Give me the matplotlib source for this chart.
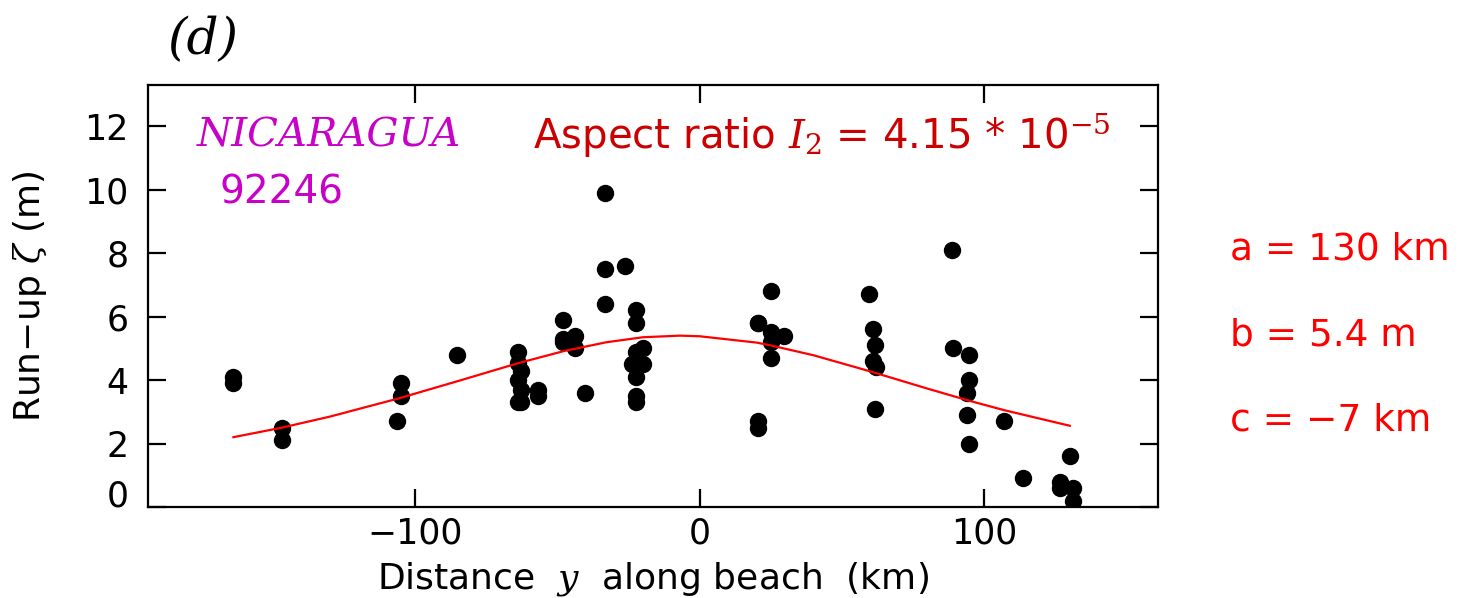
#%% Import Library
import numpy as np
import matplotlib.pyplot as plt
import matplotlib.transforms as mtransforms

#%% Modify the chart's appearance
plt.rcParams['font.family'] = ['DejaVu Sans']
plt.rcParams['mathtext.fontset'] = 'dejavuserif'
plt.rcParams['axes.linewidth'] = 1.6

#%% Data
# run-up observations: distance along beach (km), run-up (m)
dist_km = [-164, -164, -147, -147, -106.5, -105, -105, -85.5,
           -64, -64, -63, -64, -63, -64, -63, -57, -57,
           -48, -48, -48, -44, -44, -40.5,
           -33.5, -33.5, -26.5, -33.5,
           -22.5, -22.5, -20, -22.5, -24, -20, -22.5, -22.5, -22.5,
           20.5, 25, 20.5, 29.5, 25, 25, 25, 20.5, 20.5,
           59.5, 61, 61.5, 61, 62, 61.5,
           88.5, 89, 94.5, 94.5, 94, 94, 94.5, 107,
           113.5, 126.5, 126.5, 130, 131, 131]
runup_m = [4.1, 3.9, 2.5, 2.1, 2.7, 3.9, 3.5, 4.8,
           4.9, 4.55, 4.3, 4.0, 3.7, 3.3, 3.3, 3.7, 3.5,
           5.9, 5.3, 5.2, 5.4, 5.0, 3.6,
           9.9, 7.5, 7.6, 6.4,
           6.2, 5.8, 5.0, 4.9, 4.5, 4.5, 4.1, 3.5, 3.3,
           5.8, 6.8, 5.8, 5.4, 5.5, 5.2, 4.7, 2.7, 2.5,
           6.7, 5.6, 5.1, 4.6, 4.4, 3.1,
           8.1, 5.0, 4.8, 4.0, 3.6, 2.9, 2.0, 2.7,
           0.9, 0.8, 0.6, 1.6, 0.6, 0.2]

# fitted curve, values
curve_x = [-164, -147, -130, -106, -85, -64, -48, -33, -20, -7, 0,
           20, 25, 40, 60, 80, 95, 107, 130]
curve_y = [2.20, 2.50, 2.85, 3.42, 3.97, 4.53, 4.91, 5.19, 5.35, 5.40, 5.38,
           5.18, 5.09, 4.78, 4.27, 3.73, 3.34, 3.05, 2.56]

x_ticks = [-100, 0, 100]
y_ticks = [0, 2, 4, 6, 8, 10, 12]

region = 'NICARAGUA'
event_id = '92246'
fit_params = ['a = 130 km', 'b = 5.4 m', 'c = \u22127 km']

#%% Plot
fig = plt.figure(figsize=(14.63, 5.98), dpi=100)
ax = fig.add_axes([0.1012, 0.1522, 0.6903, 0.7057])

ax.plot(dist_km, runup_m, 'o', color='black', ms=11.5, mec='black')
ax.plot(curve_x, curve_y, color='red', lw=1.6)

ax.set_xlim(-194, 161)
ax.set_ylim(0, 13.3)
ax.set_xticks(x_ticks)
ax.set_yticks(y_ticks)
ax.set_xticklabels(['\u2212100', '0', '100'])
ax.tick_params(direction='in', length=13, width=1.6, labelsize=25,
               top=True, right=True)
ax.tick_params(axis='x', pad=7)
ax.tick_params(axis='y', pad=14)

# lift the "0" label a bit, as in the original
lbl0 = ax.get_yticklabels()[0]
lbl0.set_transform(lbl0.get_transform() +
                   mtransforms.ScaledTranslation(0, 14 / 100, fig.dpi_scale_trans))

ax.set_xlabel(r'Distance  $\mathit{y}$  along beach  (km)', fontsize=26)
ax.set_ylabel(r'Run$-$up $\zeta$ (m)', fontsize=26)
ax.xaxis.label.set_va('baseline')
ax.yaxis.label.set_va('center')
ax.xaxis.set_label_coords(0.5, -0.192)
ax.yaxis.set_label_coords(-0.117, 0.5)

#%% Annotations
fig.text(0.139, 0.932, '(d)', fontsize=36, family='DejaVu Serif', style='italic',
         ha='center', va='center')
ax.text(0.048, 0.88, region, transform=ax.transAxes, fontsize=29,
        family='DejaVu Serif', style='italic', color='#c800c8', va='center')
ax.text(0.071, 0.745, event_id, transform=ax.transAxes, fontsize=28,
        color='#c800c8', va='center')
ax.text(0.381, 0.88, r'Aspect ratio $I_2$ = 4.15 * 10$^{-5}$', transform=ax.transAxes,
        fontsize=29, color='#cc0000', va='center')

for i, s in enumerate(fit_params):
    fig.text(0.841, 0.582 - i * 0.143, s, fontsize=27, color='red', va='center')

fig.savefig('out.png', dpi=100)
